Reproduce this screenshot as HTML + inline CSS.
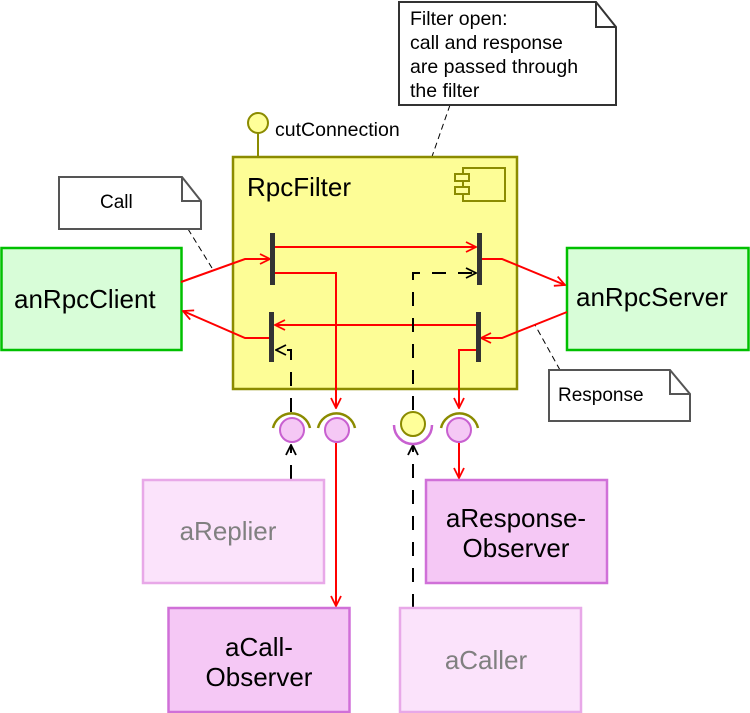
<!DOCTYPE html>
<html><head><meta charset="utf-8"><style>
html,body{margin:0;padding:0;background:#fff}
svg{display:block;font-family:"Liberation Sans",sans-serif}
</style></head><body>
<svg width="750" height="713" viewBox="0 0 750 713" xmlns="http://www.w3.org/2000/svg">
<defs>
<marker id="ar" viewBox="0 0 12 12" refX="11" refY="6" markerWidth="12" markerHeight="12" markerUnits="userSpaceOnUse" orient="auto"><path d="M1,1 L11,6 L1,11" fill="none" stroke="#f00" stroke-width="1.8"/></marker>
<marker id="ab" viewBox="0 0 12 12" refX="11" refY="6" markerWidth="12" markerHeight="12" markerUnits="userSpaceOnUse" orient="auto"><path d="M1,1 L11,6 L1,11" fill="none" stroke="#000" stroke-width="1.8"/></marker>
</defs>
<g stroke="#000" stroke-width="1" stroke-dasharray="6,4" fill="none">
<line x1="450" y1="105" x2="375" y2="320"/>
<line x1="188" y1="229" x2="212" y2="268"/>
<line x1="560" y1="370" x2="535" y2="325"/>
</g>
<path d="M399,2 H596 L616,27 V105 H399 Z" fill="#fff" stroke="#333" stroke-width="2"/>
<path d="M596,2 V27 H616" fill="none" stroke="#333" stroke-width="2"/>
<g font-size="19.5" fill="#000"><text x="410" y="25">Filter open:</text><text x="410" y="49">call and response</text><text x="410" y="73">are passed through</text><text x="410" y="97">the filter</text></g>
<line x1="258" y1="133" x2="258" y2="157" stroke="#8b8b00" stroke-width="2"/>
<circle cx="258" cy="123" r="10" fill="#ffff99" stroke="#8b8b00" stroke-width="2"/>
<text x="275" y="136" font-size="19.5">cutConnection</text>
<rect x="233" y="157" width="284" height="232" fill="#fdfd96" stroke="#8b8b00" stroke-width="2.5"/>
<text x="247" y="196" font-size="26">RpcFilter</text>
<rect x="463" y="168" width="42" height="33" fill="none" stroke="#8b8b00" stroke-width="2"/>
<rect x="455" y="174" width="14" height="7" fill="#fdfd96" stroke="#8b8b00" stroke-width="2"/>
<rect x="455" y="187" width="14" height="7" fill="#fdfd96" stroke="#8b8b00" stroke-width="2"/>
<path d="M59,177 H182 L201,201 V229 H59 Z" fill="#fff" stroke="#555" stroke-width="2"/>
<path d="M182,177 V201 H201" fill="none" stroke="#555" stroke-width="2"/>
<text x="100" y="208" font-size="19">Call</text>
<path d="M549,370 H670 L690,394 V421 H549 Z" fill="#fff" stroke="#555" stroke-width="2"/>
<path d="M670,370 V394 H690" fill="none" stroke="#555" stroke-width="2"/>
<text x="558" y="401" font-size="19">Response</text>
<rect x="1.5" y="248" width="180" height="102" fill="#d8fdd8" stroke="#00c000" stroke-width="2.5"/>
<text x="14" y="308" font-size="26">anRpcClient</text>
<rect x="567" y="248" width="181.5" height="102" fill="#d8fdd8" stroke="#00c000" stroke-width="2.5"/>
<text x="576" y="306" font-size="26">anRpcServer</text>
<g stroke="#f00" stroke-width="2" fill="none">
<polyline points="181,282 245,259 270,259" marker-end="url(#ar)"/>
<polyline points="270,338 245,338 183,311" marker-end="url(#ar)"/>
<polyline points="481,259 502,259 565,285" marker-end="url(#ar)"/>
<polyline points="567,312 502,338 481,338" marker-end="url(#ar)"/>
<line x1="275" y1="247" x2="476" y2="247" marker-end="url(#ar)"/>
<line x1="477" y1="325" x2="275" y2="325" marker-end="url(#ar)"/>
<polyline points="275,273 336,273 336,408" marker-end="url(#ar)"/>
<polyline points="478,350 459,350 459,408" marker-end="url(#ar)"/>
<line x1="336" y1="443" x2="336" y2="606" marker-end="url(#ar)"/>
<line x1="459" y1="443" x2="459" y2="478" marker-end="url(#ar)"/>
</g>
<g stroke="#000" stroke-width="2" fill="none" stroke-dasharray="14,12">
<polyline points="413,410 413,273 476,273" marker-end="url(#ab)"/>
<polyline points="291,412 291,350 276,350" marker-end="url(#ab)"/>
<line x1="413" y1="608" x2="413" y2="445" marker-end="url(#ab)"/>
<line x1="291" y1="479" x2="291" y2="445" marker-end="url(#ab)"/>
</g>
<g fill="#333">
<rect x="270" y="233" width="5" height="52"/>
<rect x="477" y="233" width="5" height="52"/>
<rect x="269" y="312" width="5" height="50"/>
<rect x="476" y="312" width="5" height="50"/>
</g>
<g stroke="#8b8b00" stroke-width="2.5" fill="none">
<path d="M273,428 A19,19 0 0 1 310,428"/>
<path d="M318,428 A19,19 0 0 1 355,428"/>
<path d="M441,428 A19,19 0 0 1 478,428"/>
</g>
<path d="M394,425 A19,19 0 0 0 432,425" fill="none" stroke="#c860d0" stroke-width="2.5"/>
<g fill="#f5c8f5" stroke="#c860d0" stroke-width="2">
<circle cx="292" cy="430" r="12"/><circle cx="337" cy="430" r="12"/><circle cx="459" cy="430" r="12"/>
</g>
<circle cx="413" cy="424" r="12" fill="#ffff99" stroke="#8b8b00" stroke-width="2"/>
<rect x="143" y="480" width="181" height="103" fill="#fbe3fb" stroke="#e8a8e8" stroke-width="2.5"/>
<text x="228" y="540" font-size="26" fill="#808080" text-anchor="middle">aReplier</text>
<rect x="426" y="480" width="181" height="103" fill="#f5c8f5" stroke="#d070d8" stroke-width="2.5"/>
<text x="516" y="527" font-size="26" text-anchor="middle">aResponse-</text>
<text x="516" y="557" font-size="26" text-anchor="middle">Observer</text>
<rect x="168.5" y="608" width="181" height="104" fill="#f5c8f5" stroke="#d070d8" stroke-width="2.5"/>
<text x="259" y="656" font-size="26" text-anchor="middle">aCall-</text>
<text x="259" y="686" font-size="26" text-anchor="middle">Observer</text>
<rect x="400" y="608" width="181" height="104" fill="#fbe3fb" stroke="#e8a8e8" stroke-width="2.5"/>
<text x="486" y="669" font-size="26" fill="#808080" text-anchor="middle">aCaller</text>
</svg>
</body></html>
